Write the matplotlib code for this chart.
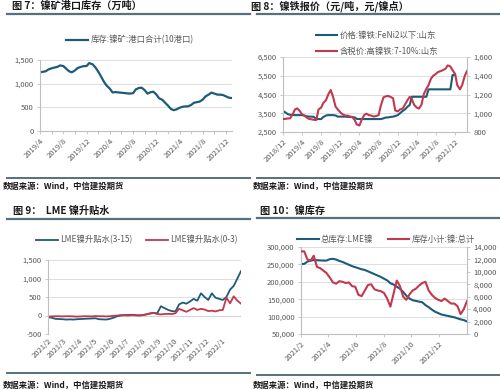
import matplotlib
matplotlib.use("Agg")
import matplotlib.pyplot as plt
from matplotlib.ticker import FuncFormatter
import pandas as pd

plt.rcParams['font.family'] = ['Noto Sans CJK SC', 'DejaVu Sans']
plt.rcParams['axes.unicode_minus'] = False

BLUE = '#1d5b78'
RED = '#c2384f'
TXT = '#595959'
GRID = '#d9d9d9'
AXIS = '#bfbfbf'
RULE = '#56707f'

# ---- 图7 镍矿港口库存 (semi-monthly from 2019/4)
ore_start = "2019-04-01"
ore_stock = [1240, 1250, 1262, 1300, 1325, 1340, 1355, 1385,
             1373, 1320, 1260, 1240, 1280, 1330, 1355, 1370,
             1373, 1435, 1410, 1350, 1250, 1150, 1040, 960,
             894, 815, 822, 815, 808, 803, 795, 790,
             800, 880, 910, 915, 860, 790, 820, 830,
             770, 690, 660, 600, 530, 465, 440, 455,
             490, 510, 520, 520, 550, 595, 610, 620,
             665, 730, 770, 810, 790, 770, 767, 760,
             730, 705, 695]
ore_ticks = ["2019-04", "2019-08", "2019-12", "2020-04", "2020-08",
             "2020-12", "2021-04", "2021-08", "2021-12"]

# ---- 图8 镍铁报价 (semi-monthly from 2018/12)
feni_start = "2018-12-01"
feni_low = [3620, 3550, 3450, 3420, 3410, 3400, 3400, 3400,
            3400, 3380, 3340, 3320, 3320, 3310, 3190, 3190,
            3190, 3300, 3380, 3400, 3400, 3400, 3380, 3320,
            3320, 3320, 3320, 3310, 3300, 3300, 3280, 3200,
            3190, 3190, 3190, 3190, 3190, 3190, 3190, 3190,
            3190, 3190, 3230, 3270, 3280, 3300, 3320, 3350,
            3400, 3500, 3620, 3700, 3850, 3940, 4380, 4380,
            4380, 4380, 4380, 4380, 4380, 4775, 4775, 4775,
            4775, 4775, 4775, 4775, 4775, 4775, 4775, 5540,
            5540, None, None, None, None, None]
feni_high = [939, 939, 945, 945, 990, 1040, 1052, 1030,
             990, 975, 955, 940, 935, 930, 928, 1040,
             1060, 1110, 1140, 1200, 1248, 1180, 1070, 1040,
             1010, 990, 975, 975, 965, 960, 930, 880,
             870, 930, 980, 995, 980, 975, 965, 970,
             980, 1080, 1170, 1180, 1185, 1175, 1160, 1030,
             1020, 1040, 1050, 1090, 1140, 1175, 1150, 1090,
             1060, 1050, 1090, 1200, 1260, 1300, 1370, 1400,
             1420, 1440, 1450, 1460, 1475, 1510, 1500, 1460,
             1420, 1300, 1255, 1300, 1400, 1450]
feni_ticks = ["2018-12", "2019-04", "2019-08", "2019-12", "2020-04",
              "2020-08", "2020-12", "2021-04", "2021-08", "2021-12"]

# ---- 图9 LME 镍升贴水 (weekly from 2021/2)
lme_start = "2021-02-01"
spread_3_15 = [-45, -60, -90, -95, -100, -110, -105, -110,
               -100, -95, -90, -85, -80, -75, -100, -105,
               -110, -90, -60, -20, 0, 10, 15, 20,
               10, 5, 10, 30, 50, 70, 60, 250,
               200, 150, 120, 110, 300, 350, 320, 380,
               450, 400, 600, 500, 420, 600, 480, 450,
               420, 500, 700, 800, 1000, 1200]
spread_0_3 = [-30, -25, -20, -20, -25, -20, -20, -25,
              -30, -25, -20, -20, -25, -15, -20, -20,
              -25, -20, -10, 0, 10, 5, 0, 10,
              5, 0, 10, 30, 60, 70, 40, 30,
              40, 45, 40, 60, 180, 140, 100, 150,
              200, 150, 180, 160, 120, 130, 110, 140,
              150, 480, 330, 520, 400, 320]
lme_ticks = ["2021-02", "2021-03", "2021-04", "2021-05", "2021-06", "2021-07",
             "2021-08", "2021-09", "2021-10", "2021-11", "2021-12", "2022-01"]

# ---- 图10 镍库存 (weekly from 2021/2)
stk_start = "2021-02-01"
lme_stock = [251000, 251500, 258000, 261000, 262500, 262000, 261500, 261000,
             261000, 265000, 266000, 264000, 260000, 257000, 253000, 249000,
             245000, 242000, 239000, 236000, 234000, 230000, 226000, 222000,
             218000, 214000, 209000, 204000, 196000, 192000, 186000, 180000,
             171000, 160000, 152000, 147000, 145000, 143000, 141000, 133000,
             127000, 120000, 114000, 110000, 106000, 104000, 102000, 100000,
             98000, 95000, 92000, 90000, 86000]
shfe_stock = [13300, 13300, 12000, 11800, 12600, 10800, 10600, 10200,
              9800, 9100, 8300, 8100, 8500, 8400, 8200, 8300,
              7700, 7600, 6300, 6100, 7000, 7900, 8000, 7200,
              7000, 6900, 6600, 5700, 4400, 6500, 8600, 7700,
              6000, 5500, 6400, 7000, 7300, 7800, 8200, 8400,
              7000, 6300, 5800, 5500, 5300, 5700, 5300, 4900,
              4900, 4500, 3200, 4000, 5300]
stk_ticks = ["2021-02", "2021-04", "2021-06", "2021-08", "2021-10", "2021-12"]


W, H = 500, 390
fig = plt.figure(figsize=(5, 3.9), dpi=100)


def box(l, t, r, b):
    return [l / W, 1 - b / H, (r - l) / W, (b - t) / H]


comma = FuncFormatter(lambda v, p: f"{v:,.0f}")


def style(ax, yt, ticks, minor=None, bottom=True):
    for s in ["top", "right"]:
        ax.spines[s].set_visible(False)
    ax.spines["left"].set_color(AXIS)
    ax.spines["bottom"].set_color(AXIS)
    ax.spines["bottom"].set_visible(bottom)
    ax.set_yticks(yt)
    ax.set_ylim(yt[0], yt[-1])
    ax.yaxis.set_major_formatter(comma)
    ax.grid(axis="y", color=GRID, lw=0.6)
    ax.set_axisbelow(True)
    tk = pd.to_datetime(ticks)
    ax.set_xticks(tk)
    ax.set_xticklabels([f"{d.year}/{d.month}" for d in tk], rotation=45,
                       ha="right", va="top", rotation_mode="anchor")
    if minor is not None:
        ax.set_xticks(pd.to_datetime(minor), minor=True)
    ax.tick_params(labelsize=5.5, colors=TXT, length=2.5, width=0.6, pad=2)
    ax.tick_params(axis="x", which="both", color=AXIS, length=2.5 if bottom else 0)
    ax.tick_params(axis="y", color=AXIS)


def right_axis(ax, lim, yt):
    ax.set_ylim(*lim)
    ax.set_yticks(yt)
    ax.yaxis.set_major_formatter(comma)
    for s in ["top", "left", "bottom"]:
        ax.spines[s].set_visible(False)
    ax.spines["right"].set_color(AXIS)
    ax.tick_params(labelsize=5.5, colors=TXT, length=2.5, width=0.6, pad=2)
    ax.tick_params(axis="y", color=AXIS)


def frame(x0, title, tx, ty, rule_y, foot_y, src_y):
    fig.text(tx / W, 1 - ty / H, title, fontsize=7.3, fontweight="bold",
             va="center", ha="left", color="#1a1a1a")
    fig.add_artist(plt.Line2D([(x0 + 7) / W, (x0 + 250) / W],
                              [1 - rule_y / H] * 2, color=RULE, lw=1.6))
    fig.add_artist(plt.Line2D([(x0 + 7) / W, (x0 + 250) / W],
                              [1 - foot_y / H] * 2, color=RULE, lw=1.4))
    fig.text((x0 + 3) / W, 1 - src_y / H, "数据来源：Wind，中信建投期货",
             fontsize=6, fontweight="bold", style="italic", va="center",
             ha="left", color="#1a1a1a")


# ---------- panel 1
d1 = pd.date_range(ore_start, periods=len(ore_stock), freq="SMS")
ax1 = fig.add_axes(box(40, 60, 232, 131))
ax1.plot(d1, ore_stock, color=BLUE, lw=1.6, label="库存:镍矿:港口合计(10港口)")
ax1.set_xlim(d1[0], d1[-1])
style(ax1, [0, 500, 1000, 1500], ore_ticks,
      minor=["2019-06", "2019-10", "2020-02", "2020-06", "2020-10",
             "2021-02", "2021-06", "2021-10"])
ax1.legend(loc="center", bbox_to_anchor=(130 / W, 1 - 40 / H),
           bbox_transform=fig.transFigure, frameon=False, fontsize=6,
           handlelength=2.6, handletextpad=0.3, labelcolor=TXT)
frame(0, "图 7：镍矿港口库存（万吨）", 12, 6, 14, 178, 186)

# ---------- panel 2
d2 = pd.date_range(feni_start, periods=len(feni_high), freq="SMS")
ax2 = fig.add_axes(box(283, 57, 467, 132))
low = pd.Series(feni_low, index=d2, dtype=float)
l1, = ax2.plot(d2, low, color=BLUE, lw=1.5, label="价格:镍铁:FeNi2以下:山东")
ax2.set_xlim(d2[0], d2[-1])
style(ax2, [2500, 3500, 4500, 5500, 6500], feni_ticks)
ax2b = ax2.twinx()
l2, = ax2b.plot(d2, feni_high, color=RED, lw=1.5, label="含税价:高镍铁:7-10%:山东")
right_axis(ax2b, (800, 1600), [800, 1000, 1200, 1400, 1600])
ax2.legend([l1, l2], [l1.get_label(), l2.get_label()], loc="center",
           bbox_to_anchor=(377 / W, 1 - 43.5 / H), bbox_transform=fig.transFigure,
           frameon=False, fontsize=6, handlelength=2.6, handletextpad=0.3,
           labelspacing=0.9, labelcolor=TXT)
frame(250, "图 8：镍铁报价（元/吨，元/镍点）", 251, 6, 14, 178, 186)

# ---------- panel 3
d3 = pd.date_range(lme_start, periods=len(spread_3_15), freq="7D")
ax3 = fig.add_axes(box(48, 260, 241, 334))
ax3.plot(d3, spread_3_15, color=BLUE, lw=1.3, label="LME镍升贴水(3-15)")
ax3.plot(d3, spread_0_3, color=RED, lw=1.3, label="LME镍升贴水(0-3)")
ax3.axhline(0, color=AXIS, lw=0.8, zorder=0.5)
ax3.set_xlim(d3[0], d3[-1])
style(ax3, [-500, 0, 500, 1000, 1500], lme_ticks, bottom=False)
ax3.legend(loc="center", bbox_to_anchor=(137 / W, 1 - 240 / H), ncol=2,
           bbox_transform=fig.transFigure, frameon=False, fontsize=6,
           handlelength=2.6, handletextpad=0.3, columnspacing=1.6, labelcolor=TXT)
frame(0, "图 9：  LME 镍升贴水", 13, 211, 219, 373, 385)

# ---------- panel 4
d4 = pd.date_range(stk_start, periods=len(lme_stock), freq="7D")
ax4 = fig.add_axes(box(301, 247, 467, 334))
m1, = ax4.plot(d4, lme_stock, color=BLUE, lw=1.5, label="总库存:LME镍")
ax4.set_xlim(d4[0], d4[-1])
style(ax4, [50000, 100000, 150000, 200000, 250000, 300000], stk_ticks)
ax4b = ax4.twinx()
m2, = ax4b.plot(d4, shfe_stock, color=RED, lw=1.5, label="库存小计:镍:总计")
right_axis(ax4b, (0, 14000), list(range(0, 14001, 2000)))
ax4.legend([m1, m2], [m1.get_label(), m2.get_label()], loc="center", ncol=2,
           bbox_to_anchor=(386 / W, 1 - 239 / H), bbox_transform=fig.transFigure,
           frameon=False, fontsize=6, handlelength=2.6, handletextpad=0.3,
           columnspacing=1.7, labelcolor=TXT)
frame(250, "图 10：镍库存", 260, 211, 218, 375, 385)

fig.savefig("out.png", dpi=100)
